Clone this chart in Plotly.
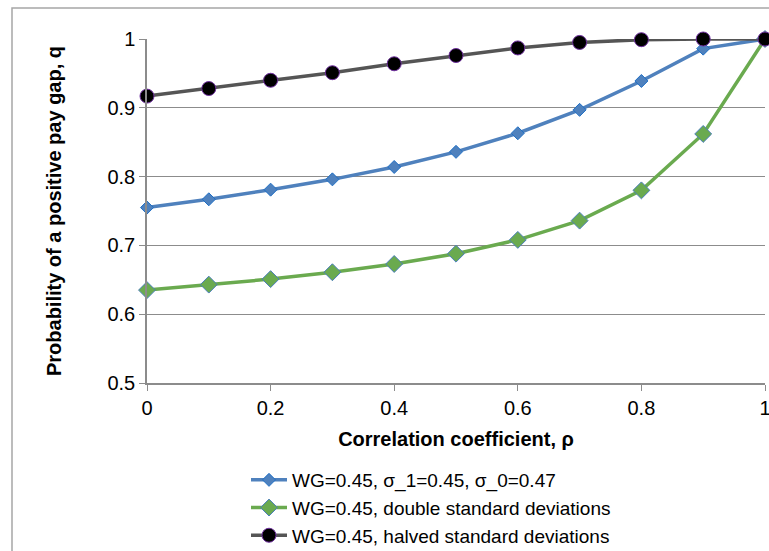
import plotly.graph_objects as go

rho = [0, 0.1, 0.2, 0.3, 0.4, 0.5, 0.6, 0.7, 0.8, 0.9, 1.0]
q_base = [0.755, 0.767, 0.781, 0.796, 0.814, 0.836, 0.863, 0.897, 0.939, 0.986, 1.0]
q_double = [0.635, 0.643, 0.651, 0.661, 0.673, 0.688, 0.708, 0.736, 0.780, 0.862, 1.0]
q_halved = [0.917, 0.928, 0.940, 0.951, 0.964, 0.976, 0.987, 0.995, 0.999, 1.0, 1.0]

names = [
    "WG=0.45, σ_1=0.45, σ_0=0.47",
    "WG=0.45, double standard deviations",
    "WG=0.45, halved standard deviations",
]

W, H = 769, 551
L, R, T, B = 147, 765, 39, 383

fig = go.Figure()
fig.add_trace(go.Scatter(
    x=rho, y=q_base, name=names[0], mode="lines+markers",
    line=dict(color="#4f81bd", width=3.5),
    marker=dict(symbol="diamond", size=10, color="#4f81bd",
                line=dict(color="#1f6fc5", width=1)),
    cliponaxis=False))
fig.add_trace(go.Scatter(
    x=rho, y=q_double, name=names[1], mode="lines+markers",
    line=dict(color="#6aaa4f", width=3.5),
    marker=dict(symbol="diamond", size=13, color="#6aaa4f",
                line=dict(color="#4a7ebb", width=1)),
    cliponaxis=False))
fig.add_trace(go.Scatter(
    x=rho, y=q_halved, name=names[2], mode="lines+markers",
    line=dict(color="#555555", width=3.5),
    marker=dict(symbol="circle", size=14, color="#000000",
                line=dict(color="#7030a0", width=1)),
    cliponaxis=False))

pw = R - L
ph = B - T

fig.add_shape(type="rect", xref="paper", yref="paper",
              x0=(12 - L) / pw, x1=(800 - L) / pw,
              y0=(B - 600) / ph, y1=(B - 8) / ph,
              line=dict(color="#a6a6a6", width=1.5), fillcolor="rgba(0,0,0,0)",
              layer="below")

fig.update_layout(
    width=W, height=H,
    margin=dict(l=L, r=W - R, t=T, b=H - B, autoexpand=False),
    paper_bgcolor="white", plot_bgcolor="white",
    font=dict(family="Liberation Sans, Arial, sans-serif", size=20, color="#000000"),
    showlegend=True,
    legend=dict(x=(246 - L) / pw, y=(B - 461) / ph, xanchor="left", yanchor="top",
                font=dict(size=19), tracegroupgap=0, itemwidth=36,
                bgcolor="rgba(0,0,0,0)"),
    xaxis=dict(range=[0, 1], dtick=0.2, tick0=0, showgrid=False,
               showline=True, linecolor="#8c8c8c", linewidth=1.5,
               ticks="outside", ticklen=6, tickcolor="#8c8c8c",
               tickfont=dict(size=20), zeroline=False, automargin=False,
               ticklabeloverflow="allow",
               title=dict(text="<b>Correlation coefficient, ρ</b>",
                          font=dict(size=20), standoff=14)),
    yaxis=dict(range=[0.5, 1], dtick=0.1, tick0=0.5, showgrid=True,
               gridcolor="#8c8c8c", gridwidth=1.2,
               showline=True, linecolor="#8c8c8c", linewidth=1.5,
               ticks="outside", ticklen=6, tickcolor="#8c8c8c",
               tickfont=dict(size=20), zeroline=False, automargin=False,
               ticklabeloverflow="allow",
               title=dict(text="<b>Probability of a positive pay gap, q</b>",
                          font=dict(size=20), standoff=40)),
)

fig.write_html("out.html")
